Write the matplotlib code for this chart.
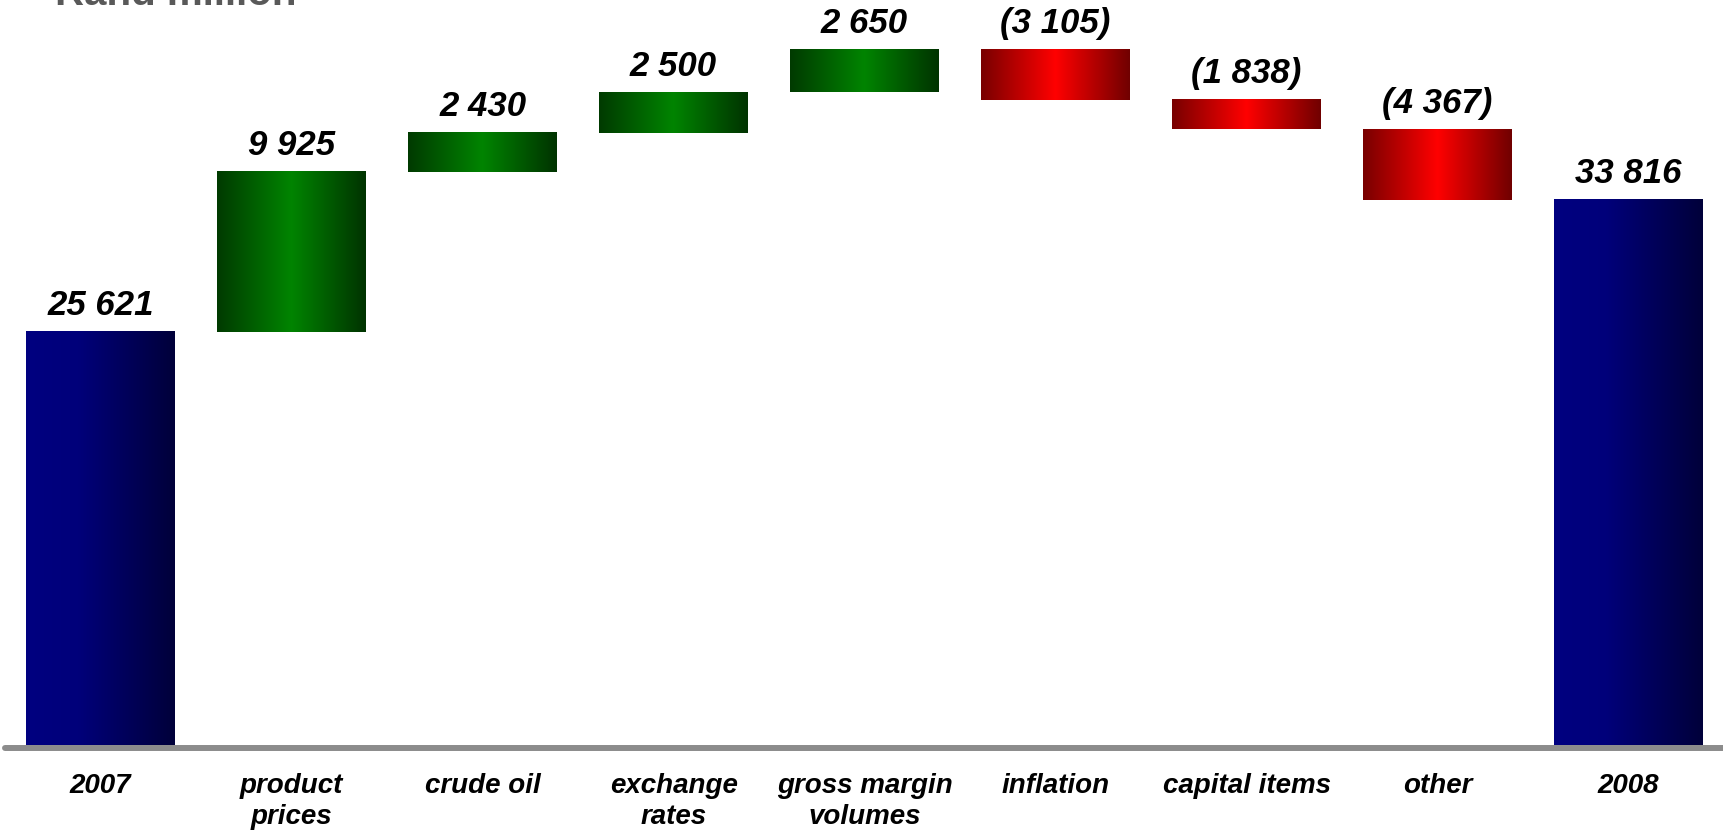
import numpy as np
import matplotlib
matplotlib.use("Agg")
import matplotlib.pyplot as plt
from matplotlib.colors import LinearSegmentedColormap
from matplotlib.transforms import offset_copy

# data (Rand million)
categories = ["2007", "product\nprices", "crude oil", "exchange\nrates",
              "gross margin\nvolumes", "inflation", "capital items", "other", "2008"]
changes = [25621, 9925, 2430, 2500, 2650, -3105, -1838, -4367, 33816]
is_total = [True, False, False, False, False, False, False, False, True]

plt.rcParams["font.family"] = ["Liberation Sans", "DejaVu Sans"]

cmap_blue = LinearSegmentedColormap.from_list(
    "blue", [(0, "#000080"), (0.35, "#00007a"), (1, "#00003a")])
cmap_green = LinearSegmentedColormap.from_list(
    "green", [(0, "#003a00"), (0.5, "#008400"), (1, "#003300")])
cmap_red = LinearSegmentedColormap.from_list(
    "red", [(0, "#780000"), (0.5, "#ff0000"), (1, "#700000")])


def fmt(v):
    s = f"{abs(v):,}".replace(",", " ")
    return f"({s})" if v < 0 else s


fig = plt.figure(figsize=(17.24, 8.33), dpi=100)
ax = fig.add_axes([0.003, 88 / 833, 0.997, 1 - 88 / 833])

grad = np.linspace(0, 1, 256)[np.newaxis, :]
w = 0.78
running = 0
for i, (cat, v, tot) in enumerate(zip(categories, changes, is_total)):
    if tot:
        bottom, top = 0, v
        running = v
        cmap = cmap_blue
    else:
        start = running
        running += v
        bottom, top = min(start, running), max(start, running)
        cmap = cmap_green if v > 0 else cmap_red
    ax.imshow(grad, cmap=cmap, extent=(i - w / 2, i + w / 2, bottom, top),
              aspect="auto", interpolation="bicubic", zorder=2)
    ax.text(i, top + 600, fmt(v), ha="center", va="bottom", fontsize=25,
            fontweight="bold", fontstyle="italic", color="black")

# grey base line sitting just under the bars
line_tr = offset_copy(ax.get_yaxis_transform(), fig=fig, x=0, y=-2.2, units="points")
ax.plot([0, 1], [0, 0], transform=line_tr, color="#8c8c8c", lw=4.3,
        solid_capstyle="round", zorder=3, clip_on=False)

ax.set_xlim(-0.5, len(categories) - 0.5)
ax.set_ylim(0, 46200)
ax.set_xticks(range(len(categories)))
ax.set_xticklabels(categories, fontsize=20, fontweight="bold", fontstyle="italic",
                   linespacing=1.25)
ax.tick_params(axis="x", length=0, pad=20)
ax.set_yticks([])
for s in ax.spines.values():
    s.set_visible(False)

fig.text(0.032, 1 - 5 / 833, "Rand million", ha="left", va="baseline",
         fontsize=29, fontweight="bold", color="#595959")

fig.savefig("out.png", dpi=100)
